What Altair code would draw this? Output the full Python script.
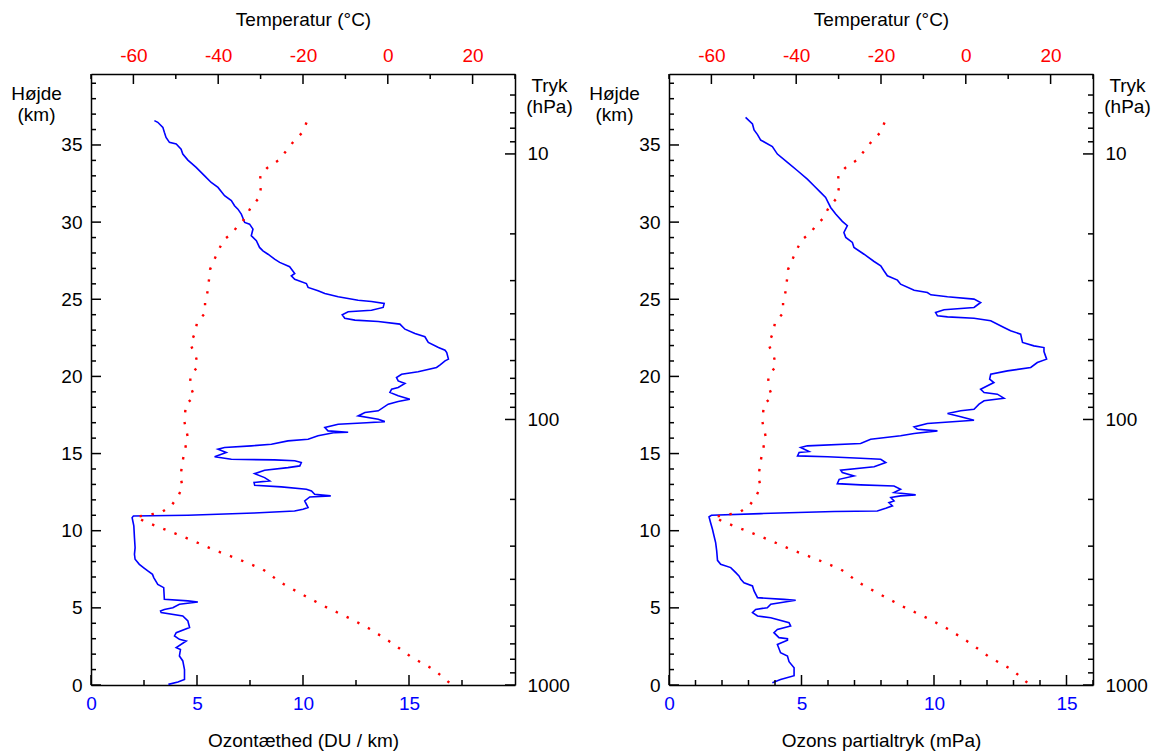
import altair as alt
import pandas as pd

# ---------------- data ----------------
# Left panel: ozone density (DU/km) vs height (km)
OZ1_H = [0.04, 0.2, 0.36, 1.0, 1.56, 1.88, 2.3, 2.42, 2.85, 2.96, 3.18, 3.39, 3.72, 4.15, 4.47,
         4.69, 4.8, 4.9, 5.01, 5.23, 5.38, 5.45, 5.55, 6.31, 6.52, 6.96, 7.17, 7.39, 7.56, 7.82,
         8.15, 8.47, 8.9, 9.55, 10.31, 10.85, 10.95, 11.0, 11.15, 11.28, 11.39, 11.5, 11.93, 12.19,
         12.26, 12.36, 12.58, 12.69, 12.84, 12.94, 13.12, 13.23, 13.44, 13.7, 13.92, 14.09, 14.2,
         14.42, 14.53, 14.59, 14.63, 14.79, 15.07, 15.28, 15.39, 15.5, 15.6, 15.82, 15.93, 16.15,
         16.36, 16.38, 16.47, 16.69, 16.9, 17.0, 17.07, 17.22, 17.44, 17.66, 17.77, 18.2, 18.37,
         18.52, 18.74, 18.96, 19.17, 19.28, 19.54, 19.71, 19.93, 20.14, 20.3, 20.58, 20.75, 21.01,
         21.12, 21.55, 21.7, 21.87, 22.2, 22.57, 22.78, 23.06, 23.39, 23.56, 23.65, 23.77, 24.0,
         24.19, 24.29, 24.47, 24.73, 24.86, 24.94, 25.16, 25.38, 25.55, 25.77, 26.02, 26.3, 26.52,
         26.67, 27.11, 27.39, 27.6, 27.92, 28.14, 28.36, 28.8, 29.12, 29.55, 29.87, 29.98, 30.52,
         30.84, 31.06, 31.39, 31.71, 32.25, 32.57, 33.0, 33.55, 34.02, 34.41, 34.73, 35.06, 35.17,
         35.49, 35.82, 36.14, 36.47, 36.58]
OZ1_V = [3.65, 4.1, 4.41, 4.41, 4.33, 4.17, 4.22, 4.02, 4.49, 4.17, 3.94, 4.02, 4.65, 4.57, 4.33,
         3.31, 3.28, 3.46, 3.86, 4.17, 5.04, 4.57, 3.46, 3.43, 3.15, 2.96, 2.9, 2.68, 2.52, 2.28,
         2.08, 2.05, 2.08, 2.05, 2.02, 1.94, 2.0, 4.57, 7.7, 9.6, 10.0, 10.24, 10.08, 10.32,
         11.31, 10.55, 10.4, 10.16, 8.98, 7.72, 7.69, 8.43, 8.19, 7.72, 8.19, 9.29, 9.85,
         9.92, 9.61, 8.66, 6.62, 5.83, 6.38, 5.99, 6.3, 7.56, 8.51, 9.29, 10.24, 10.71,
         11.5, 12.13, 11.18, 11.03, 11.66, 13.0, 13.86, 13.55, 12.6, 12.92, 13.55, 14.02, 14.49,
         15.04, 14.49, 14.1, 14.18, 14.49, 14.81, 14.49, 14.41, 14.65, 15.43, 16.3, 16.47, 16.7,
         16.86, 16.78, 16.7, 16.39, 15.91, 15.75, 15.28, 14.81, 14.57, 13.55, 12.45, 11.97, 11.85,
         12.13, 13.23, 13.78, 13.83, 13.23, 12.6, 11.66, 11.03, 10.71, 10.24, 10.16, 9.61, 9.45,
         9.61, 9.37, 8.9, 8.66, 8.35, 8.11, 7.95, 7.8, 7.56, 7.64, 7.48, 7.25, 7.09,
         6.93, 6.77, 6.62, 6.3, 5.99, 5.67, 5.36, 4.96, 4.57, 4.33, 4.25, 4.02, 3.7,
         3.54, 3.46, 3.39, 3.15, 2.99]

# Right panel: ozone partial pressure (mPa) vs height (km)
OZ2_H = [0.15, 0.36, 0.6, 1.12, 1.51, 1.88, 2.09, 2.63, 2.9, 3.0, 3.07, 3.39, 3.6, 3.83, 4.04,
         4.36, 4.47, 4.69, 4.9, 5.01, 5.23, 5.49, 5.55, 5.66, 6.1, 6.42, 6.63, 6.85, 7.07, 7.28,
         7.61, 7.82, 8.08, 8.69, 9.23, 9.66, 10.09, 10.52, 10.9, 11.0, 11.11, 11.24, 11.28, 11.45,
         11.61, 11.82, 11.93, 12.15, 12.26, 12.32, 12.47, 12.69, 12.9, 12.97, 13.05, 13.33, 13.55,
         13.77, 13.92, 14.14, 14.42, 14.63, 14.7, 14.79, 14.85, 15.07, 15.13, 15.39, 15.5, 15.65,
         15.93, 16.15, 16.3, 16.47, 16.58, 16.73, 16.95, 17.16, 17.38, 17.6, 17.77, 17.87, 18.2,
         18.42, 18.59, 18.85, 18.96, 19.17, 19.6, 19.82, 20.14, 20.36, 20.58, 20.9, 21.12, 21.61,
         21.87, 21.98, 22.2, 22.74, 22.96, 23.17, 23.61, 23.77, 23.86, 23.93, 24.14, 24.32, 24.47,
         24.79, 25.01, 25.16, 25.29, 25.44, 25.59, 25.98, 26.24, 26.52, 26.85, 27.17, 27.45, 27.92,
         28.36, 28.68, 29.01, 29.33, 29.77, 30.05, 30.52, 30.95, 31.6, 31.93, 32.36, 32.79, 33.33,
         33.87, 34.41, 34.89, 35.32, 35.67, 35.97, 36.36, 36.79]
OZ2_V = [3.9, 4.21, 4.72, 4.72, 4.53, 4.47, 4.21, 4.09, 4.47, 4.47, 4.15, 3.96, 4.09, 4.59, 4.53,
         3.84, 3.34, 3.15, 3.27, 3.71, 3.84, 4.78, 4.34, 3.34, 3.21, 3.15, 2.83, 2.71, 2.64, 2.52,
         2.33, 1.95, 1.83, 1.8, 1.76, 1.7, 1.64, 1.57, 1.51, 1.6, 3.46, 6.23, 7.86, 8.18,
         8.43, 8.3, 8.49, 8.37, 8.74, 9.31, 8.49, 8.74, 8.49, 7.23, 6.35, 6.42, 6.98,
         6.54, 6.48, 7.74, 8.18, 7.99, 7.23, 5.98, 4.85, 4.91, 5.28, 4.97, 5.22, 7.23,
         7.61, 8.74, 9.25, 10.13, 9.37, 9.25, 9.75, 11.51, 11.01, 10.51, 11.01, 11.51, 11.7,
         11.89, 12.64, 12.39, 11.89, 11.76, 12.26, 12.1, 12.14, 12.77, 13.65, 13.9, 14.25, 14.15,
         14.15, 13.77, 13.34, 13.27, 12.89, 12.64, 12.14, 11.51, 10.51, 10.13, 10.06, 10.38, 11.51,
         11.76, 11.51, 10.51, 9.88, 9.75, 9.25, 8.74, 8.62, 8.24, 8.11, 7.99, 7.74, 7.36,
         6.98, 6.92, 6.67, 6.6, 6.73, 6.54, 6.29, 6.1, 5.91, 5.72, 5.47, 5.22, 4.85,
         4.47, 4.09, 3.9, 3.46, 3.34, 3.21, 3.15, 2.89]

# Temperature profile (°C) vs height (km), same sounding in both panels
TEMP_H = [0.15, 0.97, 1.82, 2.7, 3.6, 4.3, 5.0, 5.77, 6.6, 7.5, 8.15, 8.75, 9.38, 10.0, 10.6,
          10.9, 11.17, 11.6, 12.26, 12.84, 13.5, 14.5, 16.1, 17.1, 18.2, 18.7, 19.3, 20.0, 20.7,
          21.4, 22.1, 22.85, 23.5, 24.1, 24.8, 25.5, 26.2, 26.95, 27.7, 28.3, 28.86, 29.3, 29.77,
          30.2, 30.95, 31.6, 32.3, 33.0, 33.5, 34.0, 34.6, 35.2, 35.8, 36.5]
TEMP_T = [14.5, 11.0, 5.5, 1.1, -4.0, -8.8, -14.2, -19.5, -25.0, -29.5, -35.2, -40.9, -46.2, -51.8,
          -57.4, -59.4, -53.5, -51.1, -49.4, -48.4, -48.9, -48.4, -47.2, -48.0, -47.6, -45.6, -46.5,
          -46.6, -44.7, -45.4, -46.6, -45.4, -45.0, -43.1, -43.1, -42.5, -42.2, -41.9, -40.7, -39.7,
          -38.7, -36.6, -35.4, -33.8, -32.3, -30.3, -29.9, -30.1, -28.5, -25.8, -24.0, -22.3, -20.2,
          -19.1]

# Axis values / tick labels
HEIGHT_LABELS = [0, 5, 10, 15, 20, 25, 30, 35]
HEIGHT_MINOR = [h for h in range(0, 40) if h % 5 != 0]
TEMP_LABELS = [-60, -40, -20, 0, 20]
TEMP_MINOR = [-70, -50, -30, -10, 10, 30]
P_LABELS = [10, 100, 1000]
P_MINOR = [6, 7, 8, 9, 20, 30, 40, 50, 60, 70, 80, 90, 200, 300, 400, 500, 600, 700, 800, 900]
OZ1_LABELS = [0, 5, 10, 15]
OZ1_MINOR = [2.5, 7.5, 12.5, 17.5]
OZ2_LABELS = [0, 5, 10, 15]
OZ2_MINOR = [1, 2, 3, 4, 6, 7, 8, 9, 11, 12, 13, 14, 16]

# ---------------- styling ----------------
W, H = 424, 611
H_DOMAIN = [0, 39.6]
P_DOMAIN = [5, 1000]
T_DOMAIN = [-70, 30]
FONT = "Liberation Sans"
FS = 19
BLUE = "#0000ff"
RED = "#ff0000"
MAJ, MIN = 10, 5
PLAIN = "'' + datum.value"


def base_axis(**kw):
    d = dict(ticks=False, grid=False, domainColor="black", domainWidth=1.5,
             labelFont=FONT, labelFontSize=FS, titleFont=FONT, titleFontSize=FS,
             titleFontWeight="normal", titleColor="black", labelFlush=False,
             labelOverlap=False, labelExpr=PLAIN)
    d.update(kw)
    return alt.Axis(**d)


def panel(oz_h, oz_v, xmax, xlabels, xminor, xtitle):
    oz = pd.DataFrame({"h": oz_h, "v": oz_v, "i": list(range(len(oz_h)))})
    tp = pd.DataFrame({"h": TEMP_H, "t": TEMP_T, "i": list(range(len(TEMP_H)))})

    ys = alt.Scale(domain=H_DOMAIN, nice=False, zero=False)
    xs = alt.Scale(domain=[0, xmax], nice=False, zero=False)
    ts = alt.Scale(domain=T_DOMAIN, nice=False, zero=False)
    ps = alt.Scale(type="log", domain=P_DOMAIN, reverse=True, nice=False)

    ozone = alt.Chart(oz).mark_line(color=BLUE, strokeWidth=1.6).encode(
        x=alt.X("v:Q", scale=xs, axis=base_axis(
            orient="bottom", values=xlabels, labelColor=BLUE, labelPadding=9,
            title=xtitle, titleBaseline="alphabetic", titleY=61, titleX=W / 2,
            titleAlign="center")),
        y=alt.Y("h:Q", scale=ys, axis=base_axis(
            orient="left", values=HEIGHT_LABELS, labelColor="black", labelPadding=9,
            title=["Højde", "(km)"], titleAngle=0, titleAlign="center",
            titleBaseline="top", titleX=-55, titleY=10, titleLineHeight=21)),
        order="i:Q",
    )

    temp = alt.Chart(tp).mark_line(color=RED, strokeWidth=2.4, strokeDash=[2.4, 9.6]).encode(
        x=alt.X("t:Q", scale=ts, axis=base_axis(
            orient="top", values=TEMP_LABELS, labelColor=RED, labelPadding=9,
            title="Temperatur (°C)", titleBaseline="alphabetic", titleY=-49,
            titleX=W / 2, titleAlign="center")),
        y=alt.Y("h:Q", scale=ys, axis=None),
        order="i:Q",
    )

    def hticks(vals, ln):
        return alt.Chart(pd.DataFrame({"h": vals})).mark_rule(color="black", strokeWidth=1.5).encode(
            y=alt.Y("h:Q", scale=ys, axis=None), x=alt.value(0), x2=alt.value(ln))

    def pticks(vals, ln, axis):
        return alt.Chart(pd.DataFrame({"p": vals})).mark_rule(color="black", strokeWidth=1.5).encode(
            y=alt.Y("p:Q", scale=ps, axis=axis), x=alt.value(W), x2=alt.value(W - ln))

    def xticks(vals, ln):
        return alt.Chart(pd.DataFrame({"v": vals})).mark_rule(color="black", strokeWidth=1.5).encode(
            x=alt.X("v:Q", scale=xs, axis=None), y=alt.value(H), y2=alt.value(H - ln))

    def tticks(vals, ln):
        return alt.Chart(pd.DataFrame({"t": vals})).mark_rule(color="black", strokeWidth=1.5).encode(
            x=alt.X("t:Q", scale=ts, axis=None), y=alt.value(0), y2=alt.value(ln))

    p_axis = base_axis(orient="right", values=P_LABELS, labelColor="black",
                       labelPadding=12, labelAlign="left",
                       title=["Tryk", "(hPa)"], titleAngle=0, titleAlign="center",
                       titleBaseline="top", titleX=34, titleY=2, titleLineHeight=21)

    layers = [
        ozone, temp,
        hticks(HEIGHT_LABELS, MAJ), hticks(HEIGHT_MINOR, MIN),
        pticks(P_LABELS, MAJ, p_axis), pticks(P_MINOR, MIN, None),
        xticks(xlabels, MAJ), xticks(xminor, MIN),
        tticks(TEMP_LABELS, MAJ), tticks(TEMP_MINOR, MIN),
    ]
    return alt.layer(*layers).resolve_scale(x="independent", y="independent").properties(
        width=W, height=H)


left = panel(OZ1_H, OZ1_V, 20, OZ1_LABELS, OZ1_MINOR, "Ozontæthed (DU / km)")
right = panel(OZ2_H, OZ2_V, 16, OZ2_LABELS, OZ2_MINOR, "Ozons partialtryk (mPa)")

chart = alt.hconcat(left, right, spacing=154, bounds="flush").resolve_scale(
    x="independent", y="independent").configure_view(stroke=None).properties(
    padding={"left": 2, "top": 2, "right": 2, "bottom": 2})

chart.save("out.html", embed_options={"renderer": "svg", "actions": False})
